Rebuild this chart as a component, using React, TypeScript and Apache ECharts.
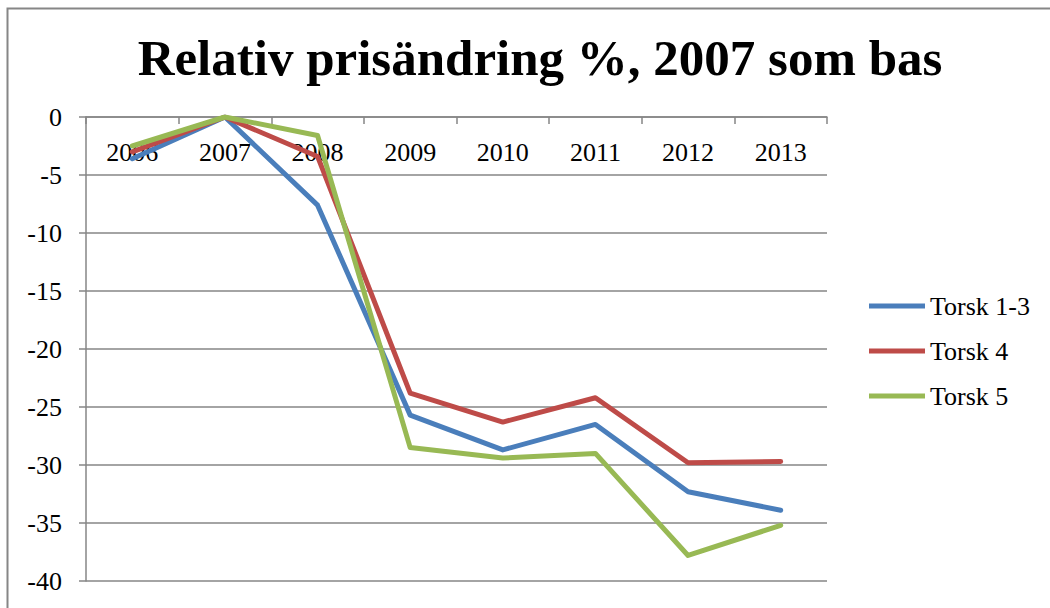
import React, { useEffect, useRef } from "react";
import * as echarts from "echarts";

const categories = ["2006", "2007", "2008", "2009", "2010", "2011", "2012", "2013"];
const torsk13 = [-3.6, 0, -7.6, -25.7, -28.7, -26.5, -32.3, -33.9];
const torsk4 = [-3.0, 0, -3.4, -23.8, -26.3, -24.2, -29.8, -29.7];
const torsk5 = [-2.5, 0, -1.6, -28.5, -29.4, -29.0, -37.8, -35.2];
const seriesNames = ["Torsk 1-3", "Torsk 4", "Torsk 5"];
const colors = ["#4A7EBB", "#BE4B48", "#98B954"];
const titleText = "Relativ prisändring %, 2007 som bas";

export default function App() {
  const ref = useRef<HTMLDivElement>(null);
  useEffect(() => {
    if (!ref.current) return;
    const chart = echarts.init(ref.current, null, { renderer: "svg" });
    const font = "'Liberation Serif', serif";
    const gray = "#868686";
    const dataSets = [torsk13, torsk4, torsk5];
    chart.setOption({
      animation: false,
      backgroundColor: "#fff",
      textStyle: { fontFamily: font },
      title: {
        text: titleText,
        left: 535,
        textAlign: "center",
        top: 27,
        textStyle: { fontFamily: font, fontWeight: "bold", fontSize: 51, color: "#000" },
      },
      graphic: [
        {
          type: "rect",
          shape: { x: 7.5, y: 8.5, width: 1100, height: 700 },
          style: { fill: "none", stroke: gray, lineWidth: 2 },
          silent: true,
          z: -1,
        },
      ],
      legend: {
        orient: "vertical",
        left: 864,
        top: 288,
        itemWidth: 56,
        itemHeight: 5,
        itemGap: 19,
        icon: "rect",
        textStyle: { fontFamily: font, fontSize: 26, color: "#000", padding: [0, 0, 0, 0] },
        data: seriesNames,
      },
      grid: { left: 86, right: 223, top: 117, bottom: 27, containLabel: false },
      xAxis: {
        type: "category",
        position: "top",
        data: categories,
        boundaryGap: true,
        axisLine: { show: true, lineStyle: { color: gray, width: 1.5 } },
        axisTick: { show: true, inside: true, length: 7, lineStyle: { color: gray, width: 1.5 } },
        axisLabel: { inside: true, margin: 22, fontFamily: font, fontSize: 26, color: "#000" },
        splitLine: { show: false },
      },
      yAxis: {
        type: "value",
        min: -40,
        max: 0,
        interval: 5,
        axisLine: { show: true, lineStyle: { color: gray, width: 1.5 } },
        axisTick: { show: true, length: 7, lineStyle: { color: gray, width: 1.5 } },
        axisLabel: { margin: 24, fontFamily: font, fontSize: 26, color: "#000" },
        splitLine: { show: true, lineStyle: { color: gray, width: 1.5 } },
      },
      series: seriesNames.map((name, i) => ({
        name,
        type: "line",
        data: dataSets[i],
        symbol: "none",
        showSymbol: false,
        color: colors[i],
        lineStyle: { width: 5, color: colors[i], cap: "round", join: "round" },
      })),
    });
    return () => chart.dispose();
  }, []);
  return (
    <div
      ref={ref}
      style={{ position: "absolute", left: 0, top: 0, width: 1050, height: 608 }}
    />
  );
}
